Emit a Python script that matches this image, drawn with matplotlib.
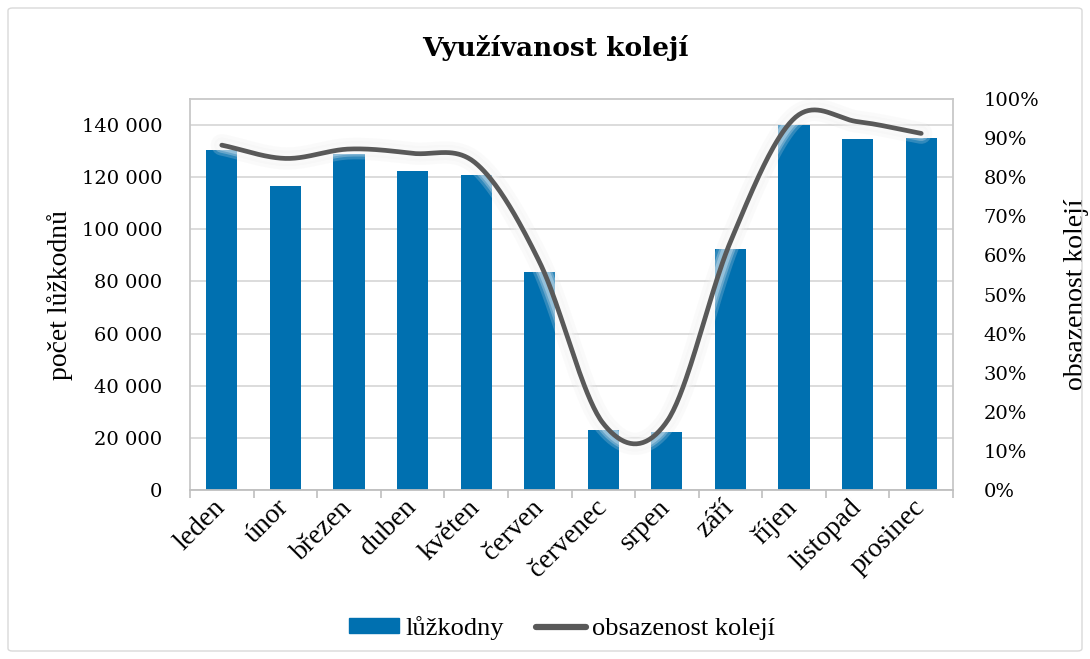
import numpy as np
import matplotlib
matplotlib.use("Agg")
import matplotlib.pyplot as plt
from matplotlib.patches import Rectangle, FancyBboxPatch
from matplotlib.lines import Line2D
from matplotlib.ticker import FixedLocator, FuncFormatter

months = ["leden", "únor", "březen", "duben", "květen", "červen",
          "červenec", "srpen", "září", "říjen", "listopad", "prosinec"]
bed_days = [130500, 116600, 128800, 122500, 120700, 83500,
            22900, 22400, 92300, 140200, 134600, 135000]
occupancy = [88.2, 84.8, 87.2, 86.1, 83.5, 58.2,
             17.0, 17.5, 63.5, 95.0, 94.2, 91.2]
left_ticks = [0, 20000, 40000, 60000, 80000, 100000, 120000, 140000]
right_ticks = [0, 10, 20, 30, 40, 50, 60, 70, 80, 90, 100]

title = "Využívanost kolejí"
left_label = "počet lůžkodnů"
right_label = "obsazenost kolejí"
bar_name = "lůžkodny"
line_name = "obsazenost kolejí"

BAR_C = "#0070B0"
LINE_C = "#595959"
GRID_C = "#D9D9D9"
num_font = ["DejaVu Serif"]
txt_font = ["Liberation Serif", "DejaVu Serif"]

W, H = 1090, 659
fig = plt.figure(figsize=(W / 100, H / 100), dpi=100)
fig.patch.set_facecolor("white")

# outer chart border
fig.patches.append(FancyBboxPatch((8 / W, 8 / H), (W - 16) / W, (H - 16) / H,
                                  boxstyle="round,pad=0,rounding_size=0.004",
                                  transform=fig.transFigure, fill=False,
                                  edgecolor="#D9D9D9", linewidth=1.0))

ax_l, ax_r, ax_t, ax_b = 190, 953, 99, 490
ax = fig.add_axes([ax_l / W, 1 - ax_b / H, (ax_r - ax_l) / W, (ax_b - ax_t) / H])
ax2 = ax.twinx()

x = np.arange(len(months))
ax.bar(x, bed_days, width=0.49, color=BAR_C, zorder=2)
ax.set_xlim(-0.5, len(months) - 0.5)
ax.set_ylim(0, 150000)
ax.yaxis.set_major_locator(FixedLocator(left_ticks))
ax.yaxis.set_major_formatter(FuncFormatter(lambda v, p: f"{int(v):,}".replace(",", " ")))
ax.grid(axis="y", color=GRID_C, linewidth=1.3, zorder=0)
ax.set_axisbelow(True)

# x ticks at category boundaries, labels centered
ax.set_xticks(np.arange(-0.5, len(months), 1.0))
ax.set_xticklabels([])
ax.set_xticks(x, minor=True)
ax.set_xticklabels(months, minor=True, rotation=45, ha="right", va="center",
                   rotation_mode="anchor", fontsize=20, family=txt_font)
ax.tick_params(axis="x", which="major", length=6, color="#BFBFBF", width=1.2)
ax.tick_params(axis="x", which="minor", length=0, pad=10)
ax.tick_params(axis="y", length=0, labelsize=14, pad=20)
for lab in ax.get_yticklabels():
    lab.set_family(num_font)

for side in ["left", "top", "right"]:
    ax.spines[side].set_color("#C8C8C8")
    ax.spines[side].set_linewidth(1.3)
ax.spines["bottom"].set_color("#BFBFBF")
ax.spines["bottom"].set_linewidth(1.3)
for side in ["left", "top", "right", "bottom"]:
    ax2.spines[side].set_visible(False)

ax.set_ylabel(left_label, fontsize=20, family=txt_font, labelpad=6)

# smoothed line (Catmull-Rom through the data points, like Excel's smoothing)
p = np.array(occupancy, dtype=float)
xs, ys = [], []
n = len(p)
for i in range(n - 1):
    p0 = p[i - 1] if i > 0 else p[i]
    p3 = p[i + 2] if i + 2 < n else p[i + 1]
    m1 = (p[i + 1] - p0) / 2 if i > 0 else (p[i + 1] - p[i])
    m2 = (p3 - p[i]) / 2 if i + 2 < n else (p[i + 1] - p[i])
    t = np.linspace(0, 1, 40, endpoint=(i == n - 2))
    h00 = 2 * t**3 - 3 * t**2 + 1
    h10 = t**3 - 2 * t**2 + t
    h01 = -2 * t**3 + 3 * t**2
    h11 = t**3 - t**2
    xs.append(i + t)
    ys.append(h00 * p[i] + h10 * m1 + h01 * p[i + 1] + h11 * m2)
xs = np.concatenate(xs)
ys = np.concatenate(ys)

for lw, a in [(16, 0.03), (11, 0.05)]:
    ax2.plot(xs, ys, color="#7F7F7F", linewidth=lw, alpha=a, solid_capstyle="round", zorder=3)
for lw, a in [(15, 0.18), (11, 0.25), (8, 0.3)]:
    ax2.plot(xs, ys, color="white", linewidth=lw, alpha=a, solid_capstyle="round", zorder=3)
ax2.plot(xs, ys, color=LINE_C, linewidth=3.4, solid_capstyle="round", zorder=4)

ax2.set_ylim(0, 100)
ax2.yaxis.set_major_locator(FixedLocator(right_ticks))
ax2.yaxis.set_major_formatter(FuncFormatter(lambda v, p: f"{int(v)}%"))
ax2.tick_params(axis="y", length=0, labelsize=14, pad=22)
for lab in ax2.get_yticklabels():
    lab.set_family(num_font)
ax2.set_ylabel(right_label, fontsize=20, family=txt_font, labelpad=18)
ax2.set_xlim(-0.5, len(months) - 0.5)

fig.text(555 / W, 1 - 48 / H, title, ha="center", va="center", fontsize=19,
         fontweight="bold", family=num_font)

handles = [Rectangle((0, 0), 1, 1, color=BAR_C),
           Line2D([0], [0], color=LINE_C, linewidth=4.5, solid_capstyle="round")]
leg = fig.legend(handles, [bar_name, line_name], loc="center",
                 bbox_to_anchor=(562 / W, 1 - 628 / H), ncol=2, frameon=False,
                 prop={"family": txt_font, "size": 19}, handlelength=1.9,
                 handletextpad=0.25, columnspacing=1.2, handleheight=0.5)

fig.savefig("out.png", dpi=100)
